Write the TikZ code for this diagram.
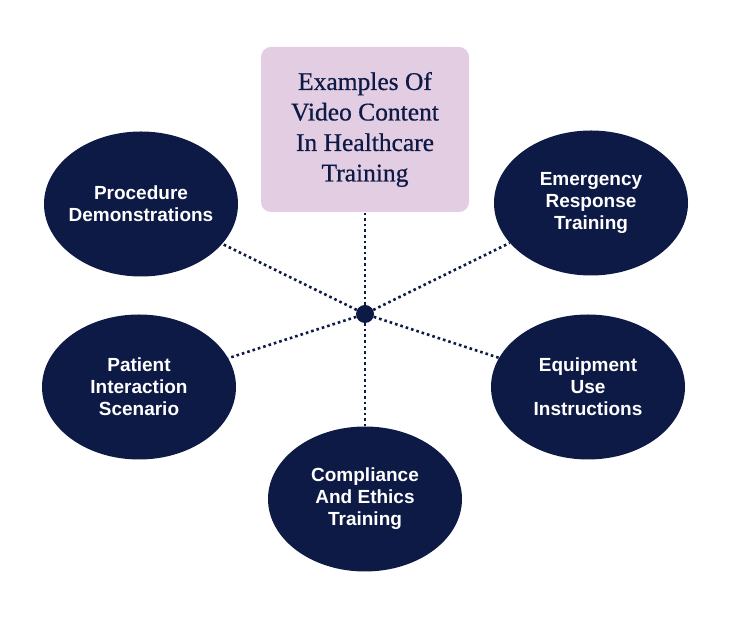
\documentclass[tikz,border=0pt]{standalone}
\usepackage{fontspec}
\setmainfont{Liberation Serif}
\setsansfont{Liberation Sans}
\newfontfamily\titfont[FakeBold=0.6]{Liberation Serif}
\usepackage{xcolor}
\usetikzlibrary{shapes.geometric,positioning}
\definecolor{marino}{HTML}{0D1A45}
\definecolor{lila}{HTML}{E3CDE3}
\tikzset{
  elipse/.style={ellipse,fill=marino,draw=none,minimum width=194pt,minimum height=145pt,
    inner xsep=-14pt,inner ysep=0pt,text=white,align=center,
    font=\sffamily\bfseries\fontsize{19}{22}\selectfont},
  titulo/.style={rectangle,rounded corners=10pt,fill=lila,draw=none,minimum width=208pt,
    minimum height=165pt,text=marino,align=center,
    font=\titfont\fontsize{25.5}{30.5}\selectfont},
  centro/.style={circle,fill=marino,inner sep=0pt,minimum size=18pt},
  punteado/.style={marino,line width=2.6pt,dash pattern=on 2.6pt off 3pt}
}

\begin{document}
\begin{tikzpicture}[x=1pt,y=1pt]
\useasboundingbox (0,0) rectangle (730,620);
\node[titulo] (tit) at (365,490.5) {Examples Of\\Video Content\\In Healthcare\\Training};
\node[centro] (c) at (365,306) {};
\node[elipse] (proc) at (141,416) {Procedure\\Demonstrations};
\node[elipse] (emer) at (591,417) {Emergency\\Response\\Training};
\node[elipse] (pac) at (139,233) {Patient\\Interaction\\Scenario};
\node[elipse] (equ) at (588,233) {Equipment\\Use\\Instructions};
\node[elipse] (comp) at (365,121) {Compliance\\And Ethics\\Training};
% lineas punteadas desde el centro
\foreach \n in {tit,proc,emer,pac,equ,comp}
  \draw[punteado] (c) -- (\n);
\end{tikzpicture}
\end{document}
